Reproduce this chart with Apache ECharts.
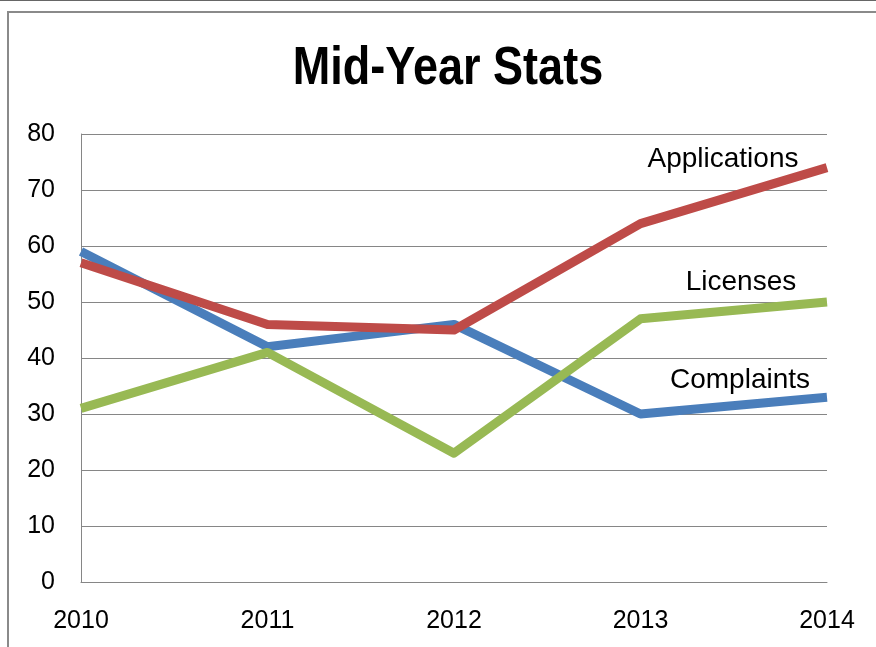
<!DOCTYPE html>
<html>
<head>
<meta charset="utf-8">
<title>Mid-Year Stats</title>
<script src="https://cdn.jsdelivr.net/npm/echarts@6/dist/echarts.min.js"></script>
<style>
  html, body { margin: 0; padding: 0; background: #fff; }
  #chart { width: 876px; height: 647px; }
</style>
</head>
<body>
<div id="chart"></div>
<script>
// data
const years = ['2010', '2011', '2012', '2013', '2014']
const complaints = [59, 42, 46, 30, 33]
const applications = [57, 46, 45, 64, 74]
const licenses = [31, 41, 23, 47, 50]

const chart = echarts.init(document.getElementById('chart'))

// name label sitting near the end of each line
function endName (name, values, offset) {
  const last = values.length - 1
  return {
    symbol: 'circle',
    symbolSize: 0,
    silent: true,
    label: {
      show: true,
      position: 'inside',
      formatter: name,
      offset: offset,
      color: '#000',
      fontSize: 28,
      fontFamily: 'Liberation Sans, Arial, sans-serif'
    },
    data: [{ coord: [years[last], values[last]] }]
  }
}

function lineSeries (name, values, color, offset) {
  return {
    name: name,
    type: 'line',
    data: values,
    showSymbol: false,
    symbol: 'none',
    lineStyle: { color: color, width: 9, cap: 'butt', join: 'round' },
    itemStyle: { color: color },
    markPoint: endName(name, values, offset),
    z: 3
  }
}

chart.setOption({
  backgroundColor: '#fff',
  animation: false,
  graphic: [
    // outer frame of the chart picture
    { type: 'line', shape: { x1: 0, y1: 0.5, x2: 876, y2: 0.5 }, style: { stroke: '#666', lineWidth: 1 }, silent: true },
    { type: 'rect', shape: { x: 8, y: 12, width: 900, height: 700 }, style: { fill: 'none', stroke: '#8a8a8a', lineWidth: 2 }, silent: true },
    // title, squeezed a bit to look like the narrow original face
    {
      type: 'text',
      x: 448,
      y: 69,
      scaleX: 0.85,
      silent: true,
      style: {
        text: 'Mid-Year Stats',
        align: 'center',
        verticalAlign: 'middle',
        fill: '#000',
        font: 'bold 53px "Liberation Sans", Arial, sans-serif'
      }
    }
  ],
  grid: { left: 81, top: 134, width: 746, height: 448 },
  xAxis: {
    type: 'category',
    data: years,
    boundaryGap: false,
    axisLine: { lineStyle: { color: '#868686', width: 1 } },
    axisTick: { show: false },
    axisLabel: {
      margin: 27,
      color: '#000',
      fontSize: 25,
      fontFamily: 'Liberation Sans, Arial, sans-serif'
    },
    splitLine: { show: false }
  },
  yAxis: {
    type: 'value',
    min: 0,
    max: 80,
    interval: 10,
    axisLine: { show: true, lineStyle: { color: '#868686', width: 1 } },
    axisTick: { show: false },
    axisLabel: {
      margin: 26,
      color: '#000',
      fontSize: 25,
      fontFamily: 'Liberation Sans, Arial, sans-serif'
    },
    splitLine: { lineStyle: { color: '#868686', width: 1 } }
  },
  series: [
    lineSeries('Complaints', complaints, '#4a7ebb', [-87, -17]),
    lineSeries('Applications', applications, '#be4b48', [-104, -8]),
    lineSeries('Licenses', licenses, '#98b954', [-86, -20])
  ]
})
</script>
</body>
</html>
